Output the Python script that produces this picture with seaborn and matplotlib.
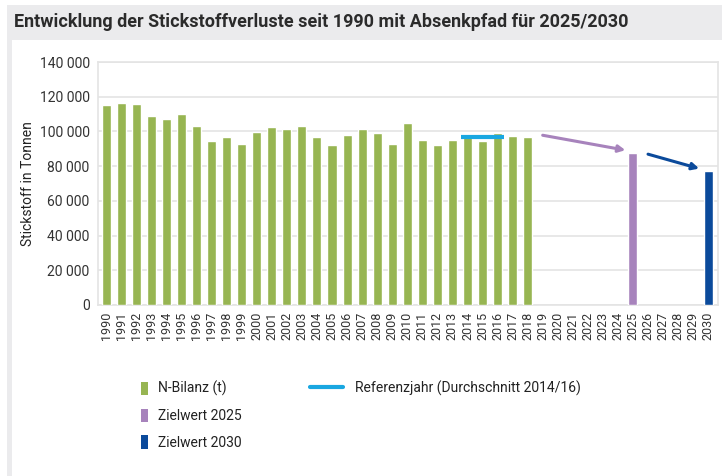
import matplotlib
matplotlib.use("Agg")
import matplotlib.pyplot as plt
from matplotlib.patches import Rectangle, Patch
from matplotlib.lines import Line2D
import seaborn as sns
import pandas as pd
import numpy as np

# ---- data ----
years = list(range(1990, 2031))
year_labels = [str(y) for y in years]
bilanz_years = list(range(1990, 2019))
bilanz_values = [115500, 116600, 115600, 108700, 107200, 109900, 103400, 94700,
                 96700, 93000, 99500, 102400, 101500, 103400, 96700, 91900,
                 97800, 101400, 99300, 93000, 105100, 95100, 91900, 95100,
                 96900, 94200, 99300, 97200, 96700]
ziel_2025 = 87300
ziel_2030 = 77300
ref_years = [2014, 2016]
ref_value = 96900
arrow25_years = [2019, 2024.5]
arrow25_values = [97800, 89200]
arrow30_years = [2026, 2029.4]
arrow30_values = [86900, 78600]

series_names = ["N-Bilanz (t)", "Zielwert 2025", "Zielwert 2030"]
ref_name = "Referenzjahr (Durchschnitt 2014/16)"
title = "Entwicklung der Stickstoffverluste seit 1990 mit Absenkpfad für 2025/2030"
ylabel = "Stickstoff in Tonnen"
yticks = [0, 20000, 40000, 60000, 80000, 100000, 120000, 140000]

c_green = "#97b552"
c_purple = "#a783bc"
c_blue = "#0b4a9b"
c_cyan = "#19a7e1"
palette = {series_names[0]: c_green, series_names[1]: c_purple, series_names[2]: c_blue}

rows = [(str(y), v, series_names[0]) for y, v in zip(bilanz_years, bilanz_values)]
rows.append(("2025", ziel_2025, series_names[1]))
rows.append(("2030", ziel_2030, series_names[2]))
df = pd.DataFrame(rows, columns=["Jahr", "Wert", "Reihe"])

# ---- figure ----
sns.set_theme(style="white")
plt.rcParams["font.family"] = ["Roboto", "DejaVu Sans"]
W, H = 722, 476
fig = plt.figure(figsize=(W / 100, H / 100), dpi=100)
fig.patch.set_facecolor("white")

# background panels
fig.patches.append(Rectangle((7 / W, 0), 1, 1 - 5 / H, transform=fig.transFigure,
                             facecolor="#ebebed", edgecolor="none", zorder=-10))
fig.patches.append(Rectangle((12 / W, 0), 1, 1 - 40 / H, transform=fig.transFigure,
                             facecolor="white", edgecolor="none", zorder=-9))

fig.text(14 / W, 1 - 22 / H, title, ha="left", va="center", fontsize=13,
         fontweight="bold", color="#2b2b2b")

ax = fig.add_axes([98 / W, 1 - 305 / H, 620 / W, 243 / H])
ax.set_facecolor("white")
sns.barplot(data=df, x="Jahr", y="Wert", hue="Reihe", order=year_labels,
            palette=palette, dodge=False, width=0.6, saturation=1,
            legend=False, ax=ax, zorder=3)

idx = {y: i for i, y in enumerate(years)}
# reference line
ax.plot([idx[ref_years[0]] - 0.4, idx[ref_years[1]] + 0.45], [ref_value, ref_value],
        color=c_cyan, lw=3, solid_capstyle="butt", zorder=5)

def pos(y):
    return y - years[0]

ax.annotate("", xy=(pos(arrow25_years[1]), arrow25_values[1]),
            xytext=(pos(arrow25_years[0]), arrow25_values[0]),
            arrowprops=dict(arrowstyle="-|>", color=c_purple, lw=2.2,
                            mutation_scale=10, shrinkA=0, shrinkB=0), zorder=6)
ax.annotate("", xy=(pos(arrow30_years[1]), arrow30_values[1]),
            xytext=(pos(arrow30_years[0]), arrow30_values[0]),
            arrowprops=dict(arrowstyle="-|>", color=c_blue, lw=2.2,
                            mutation_scale=10, shrinkA=0, shrinkB=0), zorder=6)

ax.set_xlim(-0.55, 40.65)
ax.set_ylim(0, 140000)
ax.set_yticks(yticks)
ax.set_yticklabels([f"{v:,}".replace(",", " ") for v in yticks], fontsize=10,
                   color="#333333")
ax.set_xticks(range(len(year_labels)))
ax.set_xticklabels(year_labels, rotation=90, fontsize=9, color="#333333")
ax.tick_params(axis="both", length=0, pad=5)
ax.tick_params(axis="y", pad=6)
ax.set_xlabel("")
ax.set_ylabel(ylabel, fontsize=10, color="#222222", labelpad=3)
ax.grid(axis="y", color="#e4e4e4", lw=1.2, zorder=0)
ax.set_axisbelow(True)
for s in ax.spines.values():
    s.set_color("#e4e4e4")
    s.set_linewidth(1.2)

# legends
h1 = [Patch(facecolor=palette[n], edgecolor="none") for n in series_names]
leg1 = fig.legend(h1, series_names, loc="upper left",
                  bbox_to_anchor=(141 / W, 1 - 381 / H), frameon=False,
                  fontsize=10, handlelength=0.5, handleheight=1.1,
                  handletextpad=0.75, labelspacing=0.88, borderpad=0,
                  borderaxespad=0)
for t in leg1.get_texts():
    t.set_color("#222222")
h2 = [Line2D([0], [0], color=c_cyan, lw=3)]
leg2 = fig.legend(h2, [ref_name], loc="upper left",
                  bbox_to_anchor=(310 / W, 1 - 381 / H), frameon=False,
                  fontsize=10, handlelength=2.4, handleheight=1.1,
                  handletextpad=0.85, borderpad=0, borderaxespad=0)
for t in leg2.get_texts():
    t.set_color("#222222")

fig.savefig("out.png", dpi=100)
